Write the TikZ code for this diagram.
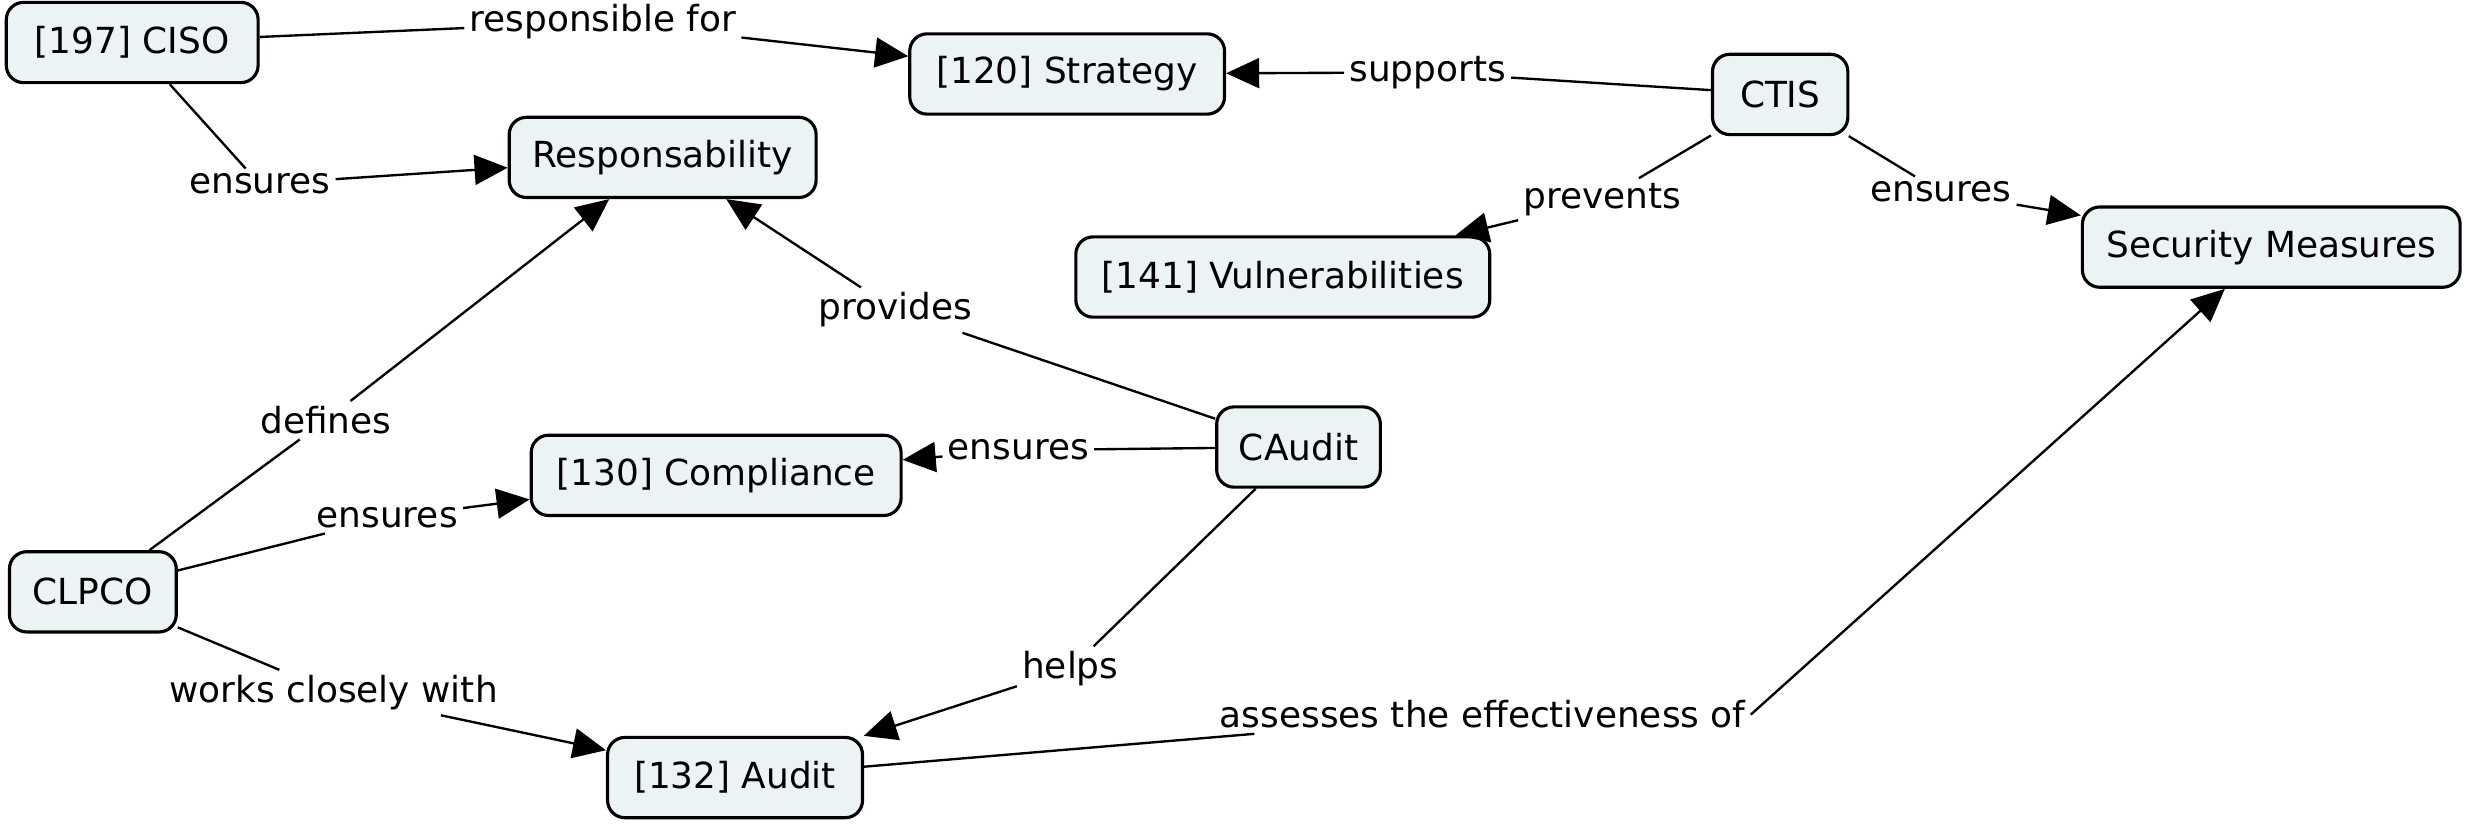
\documentclass[tikz,border=0pt]{standalone}
\usepackage{fontspec}
\setmainfont{DejaVu Sans}
\usetikzlibrary{arrows.meta}
\definecolor{conceptfill}{RGB}{236,243,245}
\tikzset{
  concept/.style={draw=black, line width=1pt, fill=conceptfill, rounded corners=5.5pt,
    minimum height=25.5pt, inner xsep=6pt, font=\fontsize{11.4}{13}\selectfont},
  linklabel/.style={inner sep=1.5pt, font=\fontsize{11.4}{13}\selectfont},
  link/.style={line width=0.75pt},
  linkto/.style={link, -{Triangle[length=10.5pt,width=9.5pt]}},
}
\newcommand{\concept}[4]{%
 \node[concept, minimum width=#3] (#1) at (#2) {#4};%
}

\begin{document}
\begin{tikzpicture}[x=0.5pt, y=-0.5pt]
  \useasboundingbox (0,0) rectangle (1568,525);
  % concepts
  \concept{ciso}{84,27}{80pt}{[197] CISO}
  \concept{strategy}{678,47}{100pt}{[120] Strategy}
  \concept{ctis}{1131,60}{43pt}{CTIS}
  \concept{resp}{421,100}{97.5pt}{Responsability}
  \concept{vuln}{815,176}{131.5pt}{[141] Vulnerabilities}
  \concept{secm}{1443,157}{120pt}{Security Measures}
  \concept{compl}{455,302}{117.5pt}{[130] Compliance}
  \concept{caudit}{825,284}{52pt}{CAudit}
  \concept{clpco}{59,376}{53pt}{CLPCO}
  \concept{audit}{467,494}{81pt}{[132] Audit}
  % link labels
  \node[linklabel] (lrespfor) at (383,14) {responsible for};
  \node[linklabel] (lcisoens) at (165,117) {ensures};
  \node[linklabel] (lsupp) at (907,46) {supports};
  \node[linklabel] (lprev) at (1018,127) {prevents};
  \node[linklabel] (lctisens) at (1233,122) {ensures};
  \node[linklabel] (lprov) at (569,197) {provides};
  \node[linklabel] (ldef) at (207,267) {defines};
  \node[linklabel] (lcaudens) at (647,286) {ensures};
  \node[linklabel] (lclpens) at (246,329) {ensures};
  \node[linklabel] (lwork) at (212,440) {works closely with};
  \node[linklabel] (lhelp) at (680,425) {helps};
  \node[linklabel] (lassess) at (942,454) {assesses the effectiveness of};
  % connectors
  \draw[link] (ciso) -- (lrespfor);   \draw[linkto] (lrespfor) -- (strategy);
  \draw[link] (ciso) -- (lcisoens);   \draw[linkto] (lcisoens) -- (resp);
  \draw[link] (ctis) -- (lsupp);      \draw[linkto] (lsupp) -- (strategy);
  \draw[link] (ctis) -- (lprev);      \draw[linkto] (lprev) -- (vuln);
  \draw[link] (ctis) -- (lctisens);   \draw[linkto] (lctisens) -- (secm);
  \draw[link] (caudit) -- (lprov);    \draw[linkto] (lprov) -- (resp);
  \draw[link] (caudit) -- (lcaudens); \draw[linkto] (lcaudens) -- (compl);
  \draw[link] (caudit) -- (lhelp);    \draw[linkto] (lhelp) -- (audit);
  \draw[link] (clpco) -- (ldef);      \draw[linkto] (ldef) -- (resp);
  \draw[link] (clpco) -- (lclpens);   \draw[linkto] (lclpens) -- (compl);
  \draw[link] (clpco) -- (lwork);     \draw[linkto] (lwork) -- (audit);
  \draw[link] (audit) -- (lassess);   \draw[linkto] (lassess.east) -- (secm);
\end{tikzpicture}
\end{document}
